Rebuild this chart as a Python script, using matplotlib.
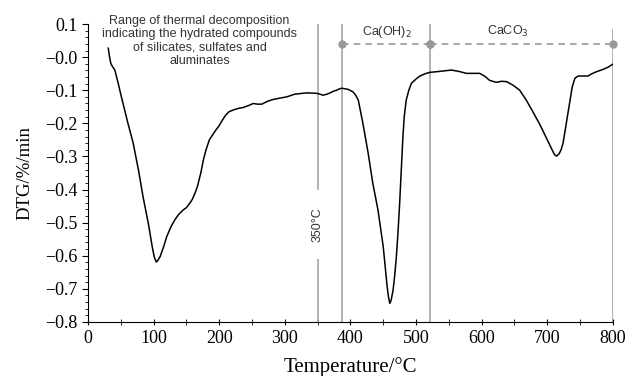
import numpy as np
import matplotlib.pyplot as plt

# 数据
temp = [31, 33, 35, 38, 41, 46, 51, 56, 61, 69, 77, 84, 92, 98, 101, 104, 106, 110,
        115, 120, 126, 132, 138, 145, 150, 155, 159, 163, 167, 172, 176, 180, 185,
        190, 195, 200, 205, 210, 215, 221, 229, 237, 245, 252, 258, 265, 273, 282,
        292, 303, 315, 333, 345, 351, 355, 358, 364, 369, 374, 379, 383, 387, 396,
        404, 408, 412, 415, 419, 427, 434, 442, 450, 453, 456, 458, 460, 462, 465,
        467.5, 470, 472.5, 475, 478, 480, 482, 485, 489, 493, 500, 506, 514, 521,
        536, 554, 565, 577, 587, 597, 605, 612, 622, 630, 638, 648, 658, 668, 678,
        689, 699, 706, 711, 714, 718, 721, 724, 729, 734, 738, 742, 746, 749, 755,
        762, 768, 775, 785, 793, 800]
dtg = [0.027, 0.0, -0.02, -0.03, -0.039, -0.078, -0.12, -0.16, -0.20, -0.26, -0.341,
       -0.422, -0.502, -0.573, -0.603, -0.619, -0.616, -0.603,
       -0.575, -0.543, -0.515, -0.493, -0.476, -0.462, -0.455, -0.442, -0.43, -0.412,
       -0.39, -0.35, -0.31, -0.28, -0.25,
       -0.235, -0.22, -0.207, -0.19, -0.175, -0.165, -0.160, -0.155, -0.152, -0.146,
       -0.14, -0.142, -0.142, -0.134, -0.128,
       -0.124, -0.12, -0.112, -0.108, -0.109, -0.11, -0.113, -0.115, -0.112, -0.108,
       -0.103, -0.10, -0.096, -0.094, -0.097,
       -0.105, -0.115, -0.13, -0.16, -0.20, -0.29, -0.38, -0.462, -0.573, -0.635,
       -0.694, -0.725, -0.744, -0.735, -0.704,
       -0.66, -0.603, -0.53, -0.442, -0.32, -0.24, -0.18, -0.13, -0.10, -0.079,
       -0.066, -0.057, -0.05, -0.046,
       -0.043, -0.039, -0.043, -0.049, -0.049, -0.049, -0.058, -0.07, -0.076, -0.073,
       -0.074, -0.085, -0.10, -0.13, -0.165,
       -0.205, -0.246, -0.275, -0.295, -0.299, -0.292, -0.28, -0.26, -0.2, -0.14,
       -0.09, -0.064, -0.058, -0.057, -0.057,
       -0.057, -0.05, -0.044, -0.037, -0.03, -0.021]

vlines_t = [387, 521, 800]
split_350 = 350
spans = [(387, 521), (521, 800)]
span_labels = ["Ca(OH)$_2$", "CaCO$_3$"]
span_label_x = [455, 640]

gray = '#a6a6a6'
txt_color = '#333333'

fig = plt.figure(figsize=(6.28, 3.76), dpi=100)
ax = fig.add_axes([0.140, 0.144, 0.836, 0.792])

# 竖线
ax.vlines([split_350], 0.1, -0.40, color=gray, lw=1.2)
ax.vlines([split_350], -0.61, -0.8, color=gray, lw=1.2)
ax.vlines(vlines_t[:2], -0.8, 0.1, color=gray, lw=1.2)
ax.vlines(vlines_t[2], -0.8, 0.085, color=gray, lw=1.2)
ax.text(split_350, -0.505, "350°C", rotation=90, ha='center', va='center',
        fontsize=9, family='Liberation Sans', color=txt_color)

# 区间虚线
for (a, b), lab, lx in zip(spans, span_labels, span_label_x):
    ax.plot([a, b], [0.04, 0.04], ls=(0, (4, 3)), color='#999999', lw=1.2,
            marker='o', ms=5, clip_on=False)
    ax.text(lx, 0.077, lab, ha='center', va='center', fontsize=9,
            family='Liberation Sans', color=txt_color)

ax.text(170, 0.049, "Range of thermal decomposition\nindicating the hydrated compounds\nof silicates, sulfates and\naluminates",
        ha='center', va='center', fontsize=9, family='Liberation Sans',
        color=txt_color, linespacing=1.12)

# DTG 曲线
ax.plot(temp, dtg, color='black', lw=1.1)

ax.set_xlim(0, 800)
ax.set_ylim(-0.8, 0.1)
ax.set_xticks(np.arange(0, 801, 100))
ax.set_xticks(np.arange(50, 800, 100), minor=True)
ax.set_yticks(np.arange(-0.8, 0.11, 0.1))
ax.set_yticks(np.arange(-0.8, 0.1, 0.02), minor=True)
ax.yaxis.set_major_formatter(plt.FuncFormatter(lambda v, p: f"{v:.1f}".replace('-', '\u2212')))

for s in ['top', 'right']:
    ax.spines[s].set_visible(False)

for lab in ax.get_xticklabels() + ax.get_yticklabels():
    lab.set_family('Liberation Serif')
    lab.set_fontsize(13)
ax.tick_params(axis='x', which='both', direction='inout', length=5)
ax.tick_params(axis='y', which='major', direction='out', length=4)
ax.tick_params(axis='y', which='minor', direction='out', length=2.5)

ax.set_xlabel("Temperature/°C", family='Liberation Serif', fontsize=15, labelpad=7)
ax.set_ylabel("DTG/%/min", family='Liberation Serif', fontsize=13.5, labelpad=8)

fig.savefig("out.png", dpi=100)
